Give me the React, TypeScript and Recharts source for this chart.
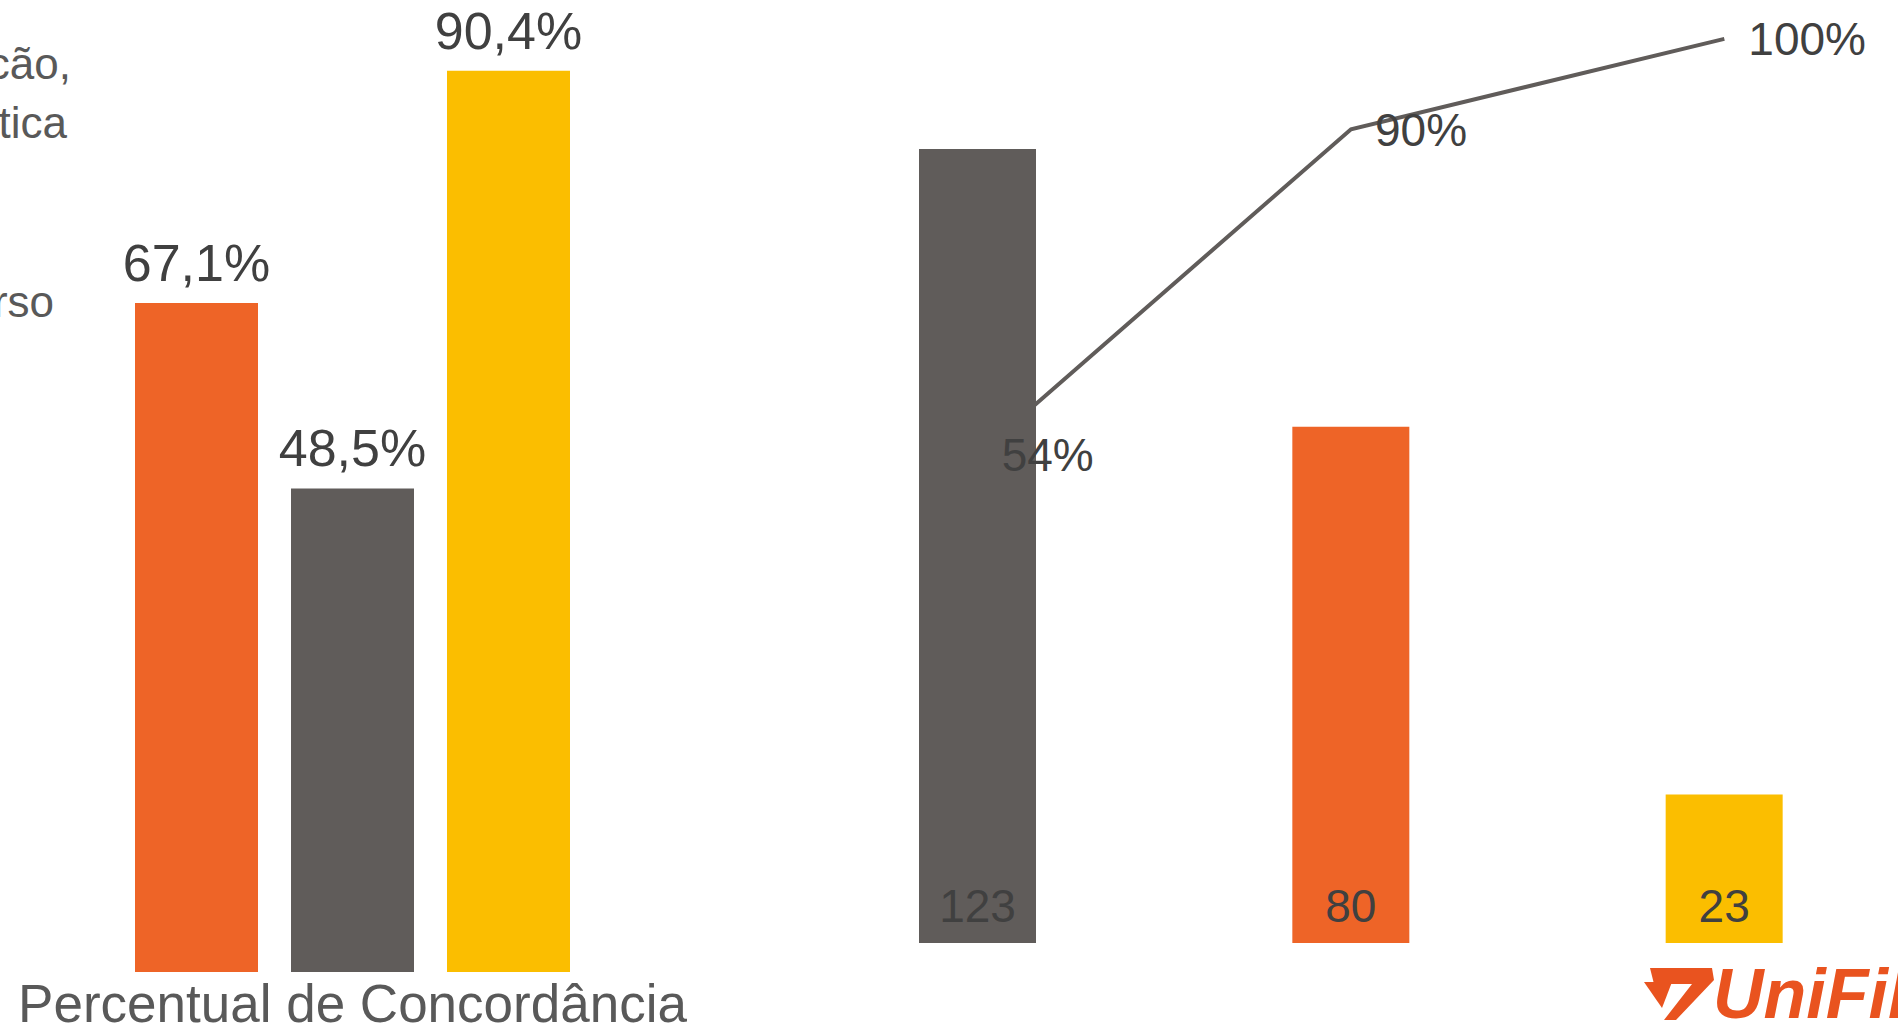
import React from "react";
import {
    BarChart,
    Bar,
    ComposedChart,
    Line,
    XAxis,
    YAxis,
    LabelList,
    Cell,
} from "recharts";

// Left chart: one category, three series
const concordanceCategories = ["Percentual de Concordância"];
const seriesOrange = [67.1];
const seriesGrey = [48.5];
const seriesYellow = [90.4];

// Legend text cut off at the left edge of the slide
const legendFragments = ["cão,", "tica", "rso"];

// Right chart: pareto counts + cumulative %
const paretoCategories = ["1", "2", "3"];
const paretoCounts = [123, 80, 23];
const paretoCumulative = [54, 90, 100];

const ORANGE = "#EE6427";
const GREY = "#605C5A";
const YELLOW = "#FBBE00";
const LABEL = "#404040";
const TEXT = "#595959";
const FONT = "'Liberation Sans', Arial, sans-serif";

const paretoColors = [GREY, ORANGE, YELLOW];

const concordanceData = concordanceCategories.map((name, i) => ({
    name,
    orange: seriesOrange[i],
    grey: seriesGrey[i],
    yellow: seriesYellow[i],
}));

const paretoData = paretoCategories.map((name, i) => ({
    name,
    count: paretoCounts[i],
    cumulative: paretoCumulative[i],
}));

const pct = (v: any) => `${Number(v).toFixed(1).replace(".", ",")}%`;
const pctInt = (v: any) => `${v}%`;

export default function App() {
    return (
        <div
            style={{
                position: "absolute",
                left: 0,
                top: 0,
                width: 1898,
                height: 1030,
                overflow: "hidden",
                background: "#fff",
                fontFamily: FONT,
            }}
        >
            {/* legend fragments */}
            <svg style={{ position: "absolute", left: 0, top: 0 }} width={200} height={400}>
                <text x={71} y={79} textAnchor="end" fontSize={44} fill={TEXT}>{legendFragments[0]}</text>
                <text x={67} y={138} textAnchor="end" fontSize={44} fill={TEXT}>{legendFragments[1]}</text>
                <text x={54} y={317} textAnchor="end" fontSize={44} fill={TEXT}>{legendFragments[2]}</text>
            </svg>

            {/* Percentual de Concordância */}
            <div style={{ position: "absolute", left: 0, top: 0 }}>
                <BarChart
                    width={705}
                    height={1030}
                    data={concordanceData}
                    margin={{ top: 0, right: 0, bottom: 0, left: 0 }}
                    barSize={123}
                    barGap={33}
                >
                    <XAxis
                        dataKey="name"
                        height={58}
                        axisLine={false}
                        tickLine={false}
                        tickSize={6}
                        tickMargin={6}
                        interval={0}
                        tick={{ fontSize: 53, fill: TEXT }}
                    />
                    <YAxis hide domain={[0, 97.5]} />
                    <Bar dataKey="orange" fill={ORANGE} isAnimationActive={false}>
                        <LabelList dataKey="orange" position="top" offset={22} formatter={pct} fontSize={52} fill={LABEL} />
                    </Bar>
                    <Bar dataKey="grey" fill={GREY} isAnimationActive={false}>
                        <LabelList dataKey="grey" position="top" offset={22} formatter={pct} fontSize={52} fill={LABEL} />
                    </Bar>
                    <Bar dataKey="yellow" fill={YELLOW} isAnimationActive={false}>
                        <LabelList dataKey="yellow" position="top" offset={22} formatter={pct} fontSize={52} fill={LABEL} />
                    </Bar>
                </BarChart>
            </div>

            {/* Pareto */}
            <div style={{ position: "absolute", left: 791, top: 0 }}>
                <ComposedChart
                    width={1120}
                    height={943}
                    data={paretoData}
                    margin={{ top: 0, right: 0, bottom: 0, left: 0 }}
                >
                    <XAxis dataKey="name" hide />
                    <YAxis yAxisId="count" hide domain={[0, 146.1]} />
                    <YAxis yAxisId="pct" orientation="right" hide domain={[0, 104.3]} />
                    {/* line sits behind the bars */}
                    <Line
                        yAxisId="pct"
                        dataKey="cumulative"
                        stroke={GREY}
                        strokeWidth={4}
                        dot={false}
                        activeDot={false}
                        isAnimationActive={false}
                        zIndex={100}
                    />
                    <Bar yAxisId="count" dataKey="count" barSize={117} isAnimationActive={false}>
                        {paretoData.map((d, i) => (
                            <Cell key={d.name} fill={paretoColors[i]} />
                        ))}
                        <LabelList dataKey="count" position="insideBottom" offset={21} fontSize={46} fill={LABEL} />
                    </Bar>
                    {/* labels for the line, drawn over the bars */}
                    <Line
                        yAxisId="pct"
                        dataKey="cumulative"
                        stroke="none"
                        dot={false}
                        activeDot={false}
                        isAnimationActive={false}
                    >
                        <LabelList dataKey="cumulative" position="right" offset={24} formatter={pctInt} fontSize={46} fill={LABEL} />
                    </Line>
                </ComposedChart>
            </div>

            {/* UniFil logo */}
            <svg style={{ position: "absolute", left: 1630, top: 950 }} width={268} height={80}>
                <polygon points="14,32 42,32 32,58" fill="#E9531F" />
                <polygon points="20,18 82,18 84,30 46,70 34,70 62,34 24,34" fill="#E9531F" />
                <text x={83} y={68} fontSize={70} fontWeight={900} fontStyle="italic" fill="#E9531F" fontFamily={FONT}>
                    UniFil
                </text>
            </svg>
        </div>
    );
}
